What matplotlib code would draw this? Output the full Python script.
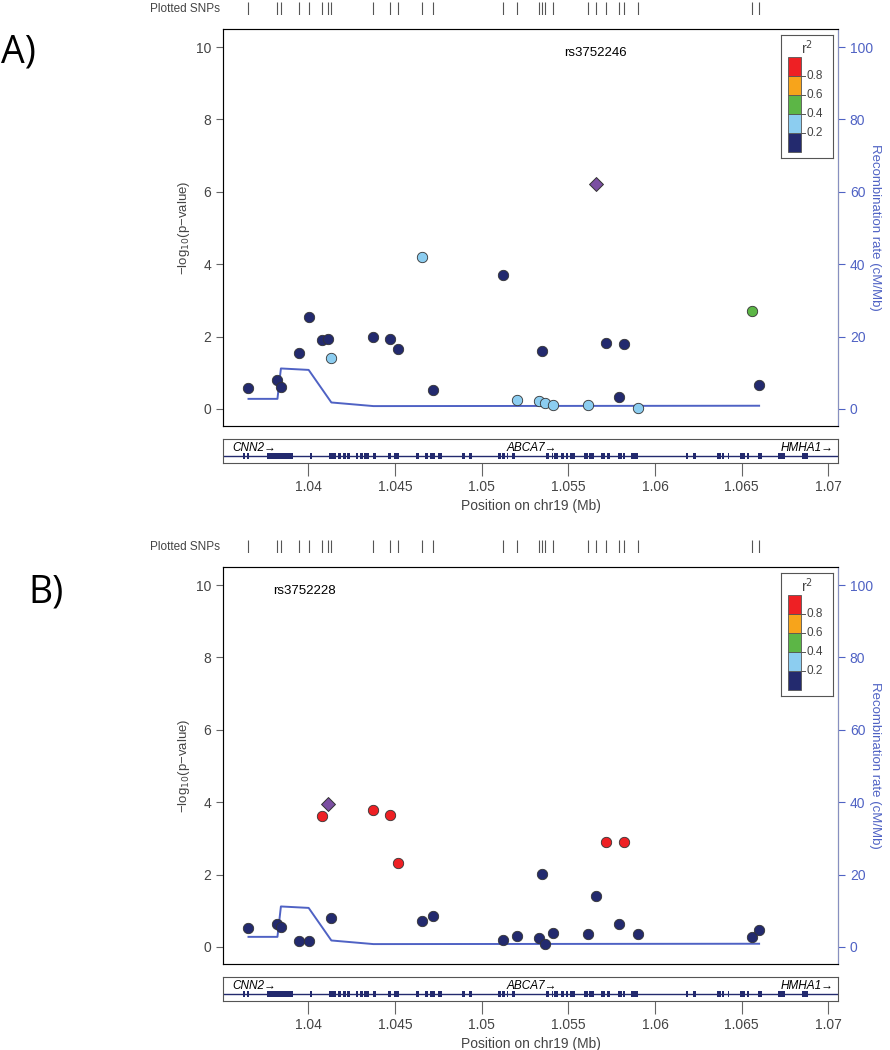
import matplotlib
matplotlib.use('Agg')
import matplotlib.pyplot as plt
from matplotlib.patches import Rectangle

plt.rcParams['font.family'] = ['Liberation Sans', 'DejaVu Sans']

# SNP positions on chr19 (Mb), same SNPs in both panels
snp_pos = [1.03655, 1.03822, 1.03842, 1.03944, 1.04002, 1.0408, 1.04114, 1.04133,
           1.04376, 1.04471, 1.04517, 1.04654, 1.04717, 1.05125, 1.05203, 1.05331,
           1.05349, 1.05365, 1.05412, 1.05611, 1.05657, 1.05718, 1.05793, 1.0582,
           1.05902, 1.06558, 1.0660]

# panel A: -log10(p) and r2 to index SNP rs3752246 (r2 = 1 is the index SNP)
logp_a = [0.57, 0.81, 0.62, 1.55, 2.55, 1.91, 1.94, 1.40, 1.98, 1.93, 1.67, 4.20, 0.52,
          3.70, 0.25, 0.23, 1.61, 0.17, 0.12, 0.10, 6.23, 1.81, 0.32, 1.80, 0.04, 2.72, 0.65]
r2_a = [0.1, 0.1, 0.1, 0.1, 0.1, 0.1, 0.1, 0.3, 0.1, 0.1, 0.1, 0.3, 0.1, 0.1, 0.3, 0.3,
        0.1, 0.3, 0.3, 0.3, 1.0, 0.1, 0.1, 0.1, 0.3, 0.5, 0.1]

# panel B: index SNP rs3752228
logp_b = [0.52, 0.64, 0.54, 0.17, 0.17, 3.61, 3.94, 0.80, 3.79, 3.65, 2.33, 0.71, 0.87,
          0.20, 0.30, 0.24, 2.02, 0.09, 0.38, 0.35, 1.42, 2.89, 0.63, 2.89, 0.35, 0.27, 0.47]
r2_b = [0.1, 0.1, 0.1, 0.1, 0.1, 0.9, 1.0, 0.1, 0.9, 0.9, 0.9, 0.1, 0.1, 0.1, 0.1, 0.1,
        0.1, 0.1, 0.1, 0.1, 0.1, 0.9, 0.1, 0.9, 0.1, 0.1, 0.1]

# recombination rate (cM/Mb)
recomb_pos = [1.03655, 1.03822, 1.03842, 1.04002, 1.04133, 1.04376, 1.0660]
recomb_rate = [2.8, 2.8, 11.2, 10.8, 1.8, 0.8, 0.9]

# gene track
exon_start = [1.03625, 1.03647, 1.0376, 1.0401, 1.04121, 1.04138, 1.04173, 1.04198, 1.04225,
              1.04275, 1.04298, 1.04323, 1.04375, 1.04458, 1.04494, 1.04621, 1.04673, 1.04702,
              1.04746, 1.04888, 1.04927, 1.05092, 1.05119, 1.05144, 1.05173, 1.05369, 1.05404,
              1.05419, 1.05457, 1.05484, 1.05511, 1.05592, 1.05619, 1.05688, 1.05723, 1.05788,
              1.05817, 1.05861, 1.06178, 1.0622, 1.06355, 1.06388, 1.06419, 1.0649, 1.06528,
              1.06595, 1.06711, 1.06845]
exon_end = [1.03635, 1.0366, 1.0391, 1.0402, 1.04135, 1.04158, 1.04189, 1.04217, 1.0424,
            1.04285, 1.04317, 1.0435, 1.04389, 1.04475, 1.04525, 1.0464, 1.04692, 1.04731,
            1.04773, 1.04904, 1.04944, 1.05111, 1.05134, 1.05153, 1.05192, 1.05388, 1.05413,
            1.05442, 1.05476, 1.05499, 1.05538, 1.05615, 1.05649, 1.05711, 1.0574, 1.05807,
            1.05826, 1.05903, 1.06191, 1.06234, 1.0638, 1.06396, 1.06426, 1.06518, 1.06541,
            1.06618, 1.06749, 1.0688]
gene_names = ['CNN2→', 'ABCA7→', 'HMHA1→']
gene_label_x = [1.0356, 1.0529, 1.0703]

r2_bins = [0.2, 0.4, 0.6, 0.8]
r2_colors = ['#232a6e', '#8ccdf0', '#5cb646', '#f7a41b', '#ee2024']
r2_ticks = ['0.2', '0.4', '0.6', '0.8']
xticks = [1.04, 1.045, 1.05, 1.055, 1.06, 1.065, 1.07]

XLIM = (1.03508, 1.07055)
W, H = 890, 1050
blue = '#4f62c4'
grey = '#444444'


def box(l, t, w, h):
    return [l / W, 1 - (t + h) / H, w / W, h / H]


def r2_color(v):
    for b, c in zip(r2_bins, r2_colors):
        if v < b:
            return c
    return r2_colors[-1]


fig = plt.figure(figsize=(8.9, 10.5), dpi=100)


def panel(top, logp, r2, name, name_x, letter, letter_xy):
    # plotted SNPs track
    ts = fig.add_axes(box(223, top - 27, 615, 13))
    ts.vlines(snp_pos, 0, 1, color='#555555', lw=0.8)
    ts.set_xlim(XLIM)
    ts.set_ylim(0, 1)
    ts.axis('off')
    ts.text(-0.005, 0.5, 'Plotted SNPs', transform=ts.transAxes, ha='right',
            va='center', fontsize=8.5, color=grey)

    ax = fig.add_axes(box(223, top, 615, 397))
    ax.set_xlim(XLIM)
    ax.set_ylim(-0.47, 10.5)
    for s in ax.spines.values():
        s.set_color('#777777')
    ax.set_xticks([])
    ax.set_yticks(range(0, 11, 2))
    ax.tick_params(axis='y', colors='#666666', labelcolor=grey, labelsize=10, length=5)
    ax.set_ylabel('−log$_{10}$(p−value)', fontsize=9.5, color=grey, labelpad=3)

    ax2 = ax.twinx()
    ax2.set_ylim(-4.7, 105)
    ax2.plot(recomb_pos, recomb_rate, color=blue, lw=1.4, zorder=1)
    ax2.set_yticks(range(0, 101, 20))
    ax2.tick_params(axis='y', colors=blue, labelsize=10, length=5)
    ax2.set_ylabel('Recombination rate (cM/Mb)', color=blue, fontsize=9.5,
                   rotation=270, labelpad=6)
    ax2.spines['right'].set_color('#8890c0')

    for x, y, v in zip(snp_pos, logp, r2):
        if v >= 1.0:
            ax2.scatter([x], [y * 10], marker='D', s=50, color='#7b4fa2',
                        edgecolor='#333333', lw=0.7, zorder=4)
        else:
            ax2.scatter([x], [y * 10], marker='o', s=56, color=r2_color(v),
                        edgecolor='#333333', lw=0.6, zorder=3)
    ax2.text(name_x, 98.3, name, ha='center', va='center', fontsize=9.5, color='black')

    # r2 legend
    lg = ax.inset_axes([0.907, 0.675, 0.085, 0.31])
    lg.set_xlim(0, 1)
    lg.set_ylim(0, 1)
    lg.set_xticks([])
    lg.set_yticks([])
    for s in lg.spines.values():
        s.set_color('#555555')
    seg = 0.77 / 5
    for i, c in enumerate(r2_colors):
        lg.add_patch(Rectangle((0.135, 0.05 + i * seg), 0.25, seg, facecolor=c,
                               edgecolor='#555555', lw=0.6))
    for i, t in enumerate(r2_ticks):
        yy = 0.05 + (i + 1) * seg
        lg.plot([0.385, 0.47], [yy, yy], color='#555555', lw=0.7)
        lg.text(0.5, yy, t, va='center', ha='left', fontsize=8.5, color=grey)
    lg.text(0.5, 0.9, 'r$^2$', ha='center', va='center', fontsize=10, color=grey)

    # gene track
    gt = fig.add_axes(box(223, top + 410, 615, 24))
    gt.set_xlim(XLIM)
    gt.set_ylim(0, 1)
    gt.axhline(0.29, color='#232a6e', lw=1)
    gt.broken_barh([(s, e - s) for s, e in zip(exon_start, exon_end)], (0.18, 0.22),
                   facecolor='#232a6e')
    aligns = ['left', 'center', 'right']
    for g, gx, al in zip(gene_names, gene_label_x, aligns):
        gt.text(gx, 0.64, g, ha=al, va='center', fontsize=8.5, style='italic', color='black')
    gt.set_yticks([])
    gt.set_xticks(xticks)
    gt.set_xticklabels([f'{t:g}' for t in xticks])
    gt.tick_params(axis='x', colors='#666666', labelcolor=grey, labelsize=10, length=9)
    for s in gt.spines.values():
        s.set_color('#555555')
    gt.set_xlabel('Position on chr19 (Mb)', fontsize=10, color=grey, labelpad=3)

    fig.text(letter_xy[0] / W, 1 - letter_xy[1] / H, letter, fontsize=27,
             family=['Open Sans', 'DejaVu Sans'], va='center', ha='left')


panel(29, logp_a, r2_a, 'rs3752246', 1.05657, 'A)', (1, 53))
panel(567, logp_b, r2_b, 'rs3752228', 1.0398, 'B)', (28, 593))

fig.savefig('out.png', dpi=100)
